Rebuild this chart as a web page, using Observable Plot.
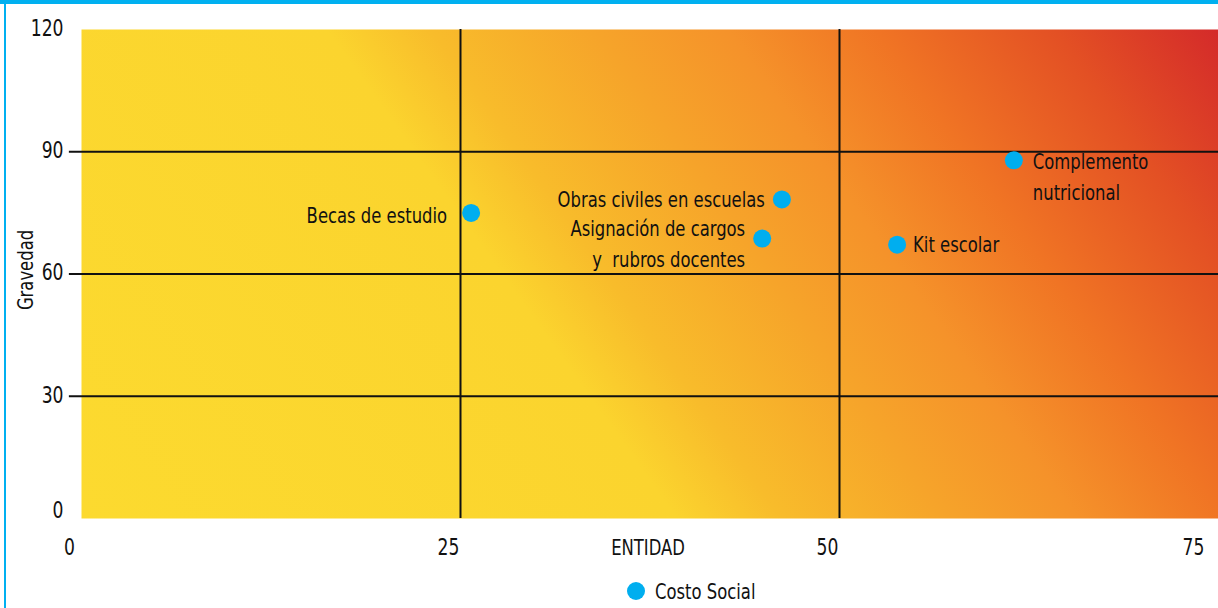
<!DOCTYPE html>
<html><head><meta charset="utf-8">
<script src="https://cdn.jsdelivr.net/npm/d3@7"></script>
<script src="https://cdn.jsdelivr.net/npm/@observablehq/plot@0.6"></script>
<style>
body{margin:0;background:#fff;}
#wrap{position:relative;width:1218px;height:608px;overflow:hidden;font-family:"Liberation Sans Narrow","DejaVu Sans Condensed",sans-serif;}
#topbar{position:absolute;left:0;top:0;width:1218px;height:4px;background:#00B0F0;}
#leftbar{position:absolute;left:4px;top:0;width:2px;height:608px;background:#00B0F0;}
#legend{position:absolute;left:627px;top:578px;height:26px;display:flex;align-items:center;font-size:22px;color:#111;}
.sw{display:inline-block;width:18px;height:18px;border-radius:50%;background:#00AEEF;margin-right:10px;}
.lt{display:inline-block;transform:scaleX(0.83);transform-origin:left center;white-space:nowrap;}
svg text{white-space:pre;}
</style></head><body>
<div id="wrap"><div id="chart"></div><div id="topbar"></div><div id="leftbar"></div>
<div id="legend"><span class="sw"></span><span class="lt">Costo Social</span></div></div>
<script>
// Data
const programs = ["Becas de estudio", "Obras civiles en escuelas", "Asignación de cargos\ny  rubros docentes", "Kit escolar", "Complemento\nnutricional"];
const entidad = [25.7, 46.2, 44.9, 53.8, 61.5];
const gravedad = [75, 78.3, 68.7, 67.2, 87.9];
const xTicks = [0, 25, 50, 75];
const yTicks = [0, 30, 60, 90, 120];
const hLines = [30, 60, 90];
const vLines = [25, 50];

const data = programs.map((name, i) => ({name, x: entidad[i], y: gravedad[i]}));
const FONT = '"Liberation Sans Narrow","DejaVu Sans Condensed",sans-serif';
const ink = "#111";
const lbl = (idx, opts) => Plot.text(data, {filter: (d, i) => i === idx, x: "x", y: "y", text: "name",
  fontFamily: FONT, fontSize: 22, fill: ink, lineHeight: 1.4, ...opts});
const xLast = xTicks[xTicks.length - 1];

const chart = Plot.plot({
  width: 1218, height: 570,
  marginTop: 29, marginBottom: 52, marginLeft: 81, marginRight: 0,
  x: {domain: [0, 75], axis: null},
  y: {domain: [0, 120], axis: null},
  style: {background: "transparent", overflow: "visible"},
  marks: [
    Plot.frame({fill: "url(#bg)", stroke: "none"}),
    Plot.ruleY(hLines, {y: d => d, x1: -0.8, x2: 75, stroke: ink, strokeWidth: 2}),
    Plot.ruleX(vLines, {x: d => d, y1: 0, y2: 120, stroke: ink, strokeWidth: 2}),
    Plot.dot(data, {x: "x", y: "y", r: 9, fill: "#00AEEF", stroke: "none"}),
    lbl(0, {textAnchor: "end", dx: -24}),
    lbl(1, {textAnchor: "end", dx: -17, dy: -2}),
    lbl(2, {textAnchor: "end", dx: -17, dy: 3}),
    lbl(3, {textAnchor: "start", dx: 16, dy: -3}),
    lbl(4, {textAnchor: "start", dx: 19, dy: 14}),
    Plot.text(yTicks.filter(v => v > 0), {y: d => d, frameAnchor: "left", dx: -18, dy: -1, textAnchor: "end",
      lineAnchor: "middle", fontFamily: FONT, fontSize: 23, fill: ink}),
    Plot.text(yTicks.filter(v => v === 0), {y: d => d, frameAnchor: "left", dx: -18, dy: -8, textAnchor: "end",
      lineAnchor: "middle", fontFamily: FONT, fontSize: 23, fill: ink}),
    Plot.text(xTicks.filter(v => v !== xLast), {x: d => d, frameAnchor: "bottom", dy: 29, dx: -12, textAnchor: "middle",
      lineAnchor: "middle", fontFamily: FONT, fontSize: 23, fill: ink}),
    Plot.text(xTicks.filter(v => v === xLast), {x: d => d, frameAnchor: "bottom", dy: 29, dx: -25, textAnchor: "middle",
      lineAnchor: "middle", fontFamily: FONT, fontSize: 23, fill: ink}),
    Plot.text(["ENTIDAD"], {frameAnchor: "bottom", dy: 29, dx: -2, textAnchor: "middle", lineAnchor: "middle",
      fontFamily: FONT, fontSize: 22, fill: ink}),
    Plot.text(["Gravedad"], {frameAnchor: "left", dx: -56, dy: -4, rotate: -90, textAnchor: "middle",
      lineAnchor: "middle", fontFamily: FONT, fontSize: 22, fill: ink})
  ]
});

const defs = document.createElementNS("http://www.w3.org/2000/svg", "defs");
defs.innerHTML = `<linearGradient id="bg" x1="0" y1="1" x2="1.195" y2="0.632">
  <stop offset="0" stop-color="#FCDA2F"/>
  <stop offset="0.40" stop-color="#FBD42E"/>
  <stop offset="0.47" stop-color="#F8BC2B"/>
  <stop offset="0.58" stop-color="#F6A42A"/>
  <stop offset="0.67" stop-color="#F5922A"/>
  <stop offset="0.77" stop-color="#F07424"/>
  <stop offset="0.89" stop-color="#E35024"/>
  <stop offset="1" stop-color="#D42A2A"/>
</linearGradient>`;
chart.insertBefore(defs, chart.firstChild);
// condense the glyphs horizontally to mimic the narrow typeface of the reference
chart.querySelectorAll("text").forEach(t => {
  const tr = t.getAttribute("transform") || "";
  t.setAttribute("transform", tr + " scale(0.83,1)");
});
document.getElementById("chart").appendChild(chart);
</script>
</body></html>
